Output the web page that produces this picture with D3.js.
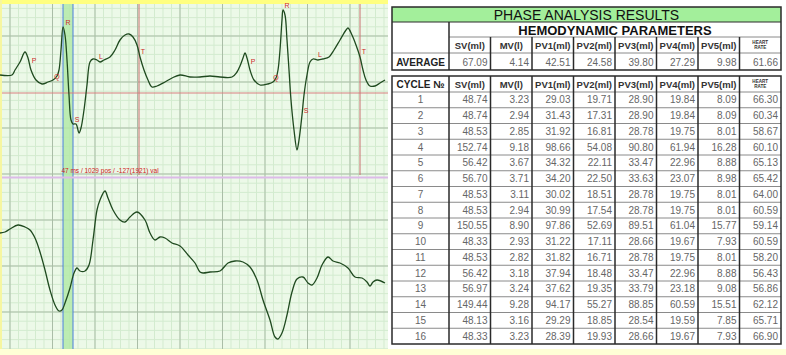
<!DOCTYPE html>
<html>
<head>
<meta charset="utf-8">
<script src="https://cdn.jsdelivr.net/npm/d3@7"></script>
<style>
  body { margin: 0; background: #fff; }
  svg { display: block; }
  text { font-family: Arial, "Liberation Sans", sans-serif; }
</style>
</head>
<body>
<div id="chart"></div>
<script>
// ECG traces: time in ms, amplitude in raw units
var topTrace = [
  [0,70],[48,70],[60,120],[80,200],[100,300],[112,240],[124,120],[144,20],[168,-20],[192,0],
  [212,20],[228,60],[236,120],[244,320],[252,550],[260,470],[268,220],[276,-130],[284,-380],[292,-420],
  [304,-420],[316,-510],[324,-460],[336,-280],[348,-30],[360,200],[372,230],[388,220],[400,200],[416,220],
  [440,250],[460,320],[480,420],[500,470],[516,480],[532,450],[548,370],[560,250],[576,120],[592,20],
  [608,-50],[628,-40],[660,0],[688,40],[720,70],[760,50],[800,50],[840,60],[880,50],[928,50],
  [948,100],[960,160],[972,240],[980,290],[988,240],[1000,120],[1016,20],[1040,-30],[1072,-20],[1092,0],
  [1104,40],[1112,120],[1120,320],[1128,620],[1132,720],[1140,670],[1148,420],[1156,120],[1164,-180],[1176,-480],
  [1188,-680],[1196,-580],[1208,-330],[1216,-130],[1228,70],[1240,200],[1252,230],[1272,220],[1292,230],[1316,250],
  [1336,320],[1360,420],[1384,520],[1392,540],[1408,470],[1424,370],[1440,250],[1452,120],[1464,20],[1480,-40],
  [1500,-40],[1520,-10],[1540,20]
]

var bottomTrace = [
  [0,360],[20,370],[40,400],[72,440],[100,420],[120,390],[140,310],[160,170],[180,-10],[200,-210],
  [220,-360],[236,-420],[248,-410],[260,-340],[280,-190],[296,-40],[308,10],[320,-20],[340,-20],[356,40],
  [372,290],[388,590],[400,690],[420,780],[432,710],[452,590],[480,490],[500,470],[520,520],[548,570],
  [580,490],[600,360],[620,290],[640,320],[660,310],[688,260],[720,230],[752,140],[780,60],[800,-30],
  [812,-40],[840,-30],[880,-20],[912,60],[940,80],[972,70],[1000,20],[1028,-110],[1052,-310],[1080,-510],
  [1100,-680],[1112,-700],[1128,-640],[1148,-460],[1168,-230],[1188,-100],[1212,-80],[1232,-140],[1248,-160],[1268,-90],
  [1288,40],[1312,120],[1332,80],[1360,60],[1392,10],[1420,-80],[1448,-90],[1468,-130],[1480,-170],[1492,-130],
  [1508,-110],[1540,-140]
]

var waveLabels = [
  {label:"P", t:136, v:210}, {label:"Q", t:228, v:50}, {label:"R", t:272, v:590},
  {label:"S", t:308, v:-380}, {label:"L", t:404, v:250}, {label:"T", t:572, v:300},
  {label:"P", t:1012, v:200}, {label:"Q", t:1104, v:40}, {label:"R", t:1148, v:760},
  {label:"S", t:1224, v:-290}, {label:"L", t:1280, v:270}, {label:"T", t:1456, v:300}
]

var cursorText = "47 ms / 1029 pos / -127(1921) val"

// table
var columns = ["SV(ml)","MV(l)","PV1(ml)","PV2(ml)","PV3(ml)","PV4(ml)","PV5(ml)","HEART RATE"]
var average = [67.09, 4.14, 42.51, 24.58, 39.80, 27.29, 9.98, 61.66]
var cycles = [1,2,3,4,5,6,7,8,9,10,11,12,13,14,15,16]
var sv  = [48.74,48.74,48.53,152.74,56.42,56.70,48.53,48.53,150.55,48.33,48.53,56.42,56.97,149.44,48.13,48.33]
var mv  = [3.23,2.94,2.85,9.18,3.67,3.71,3.11,2.94,8.90,2.93,2.82,3.18,3.24,9.28,3.16,3.23]
var pv1 = [29.03,31.43,31.92,98.66,34.32,34.20,30.02,30.99,97.86,31.22,31.82,37.94,37.62,94.17,29.29,28.39]
var pv2 = [19.71,17.31,16.81,54.08,22.11,22.50,18.51,17.54,52.69,17.11,16.71,18.48,19.35,55.27,18.85,19.93]
var pv3 = [28.90,28.90,28.78,90.80,33.47,33.63,28.78,28.78,89.51,28.66,28.78,33.47,33.79,88.85,28.54,28.66]
var pv4 = [19.84,19.84,19.75,61.94,22.96,23.07,19.75,19.75,61.04,19.67,19.75,22.96,23.18,60.59,19.59,19.67]
var pv5 = [8.09,8.09,8.01,16.28,8.88,8.98,8.01,8.01,15.77,7.93,8.01,8.88,9.08,15.51,7.85,7.93]
var heartRate = [66.30,60.34,58.67,60.10,65.13,65.42,64.00,60.59,59.14,60.59,58.20,56.43,56.86,62.12,65.71,66.90]

var W = 786, H = 355
var svg = d3.select("#chart").append("svg").attr("width", W).attr("height", H)

// ---------- ECG panel ----------
var panelW = 388
var xScale = d3.scaleLinear().domain([0, 1540]).range([0, 385])
var yTop = d3.scaleLinear().domain([820, -950]).range([0, 177])
var yBot = d3.scaleLinear().domain([920, -810]).range([177, 350])

svg.append("rect").attr("x", 0).attr("y", 0).attr("width", panelW).attr("height", H).attr("fill", "#ecf9e8")

var grid = svg.append("g")
// minor grid
for (var gx = 10 - 8.5 * 2; gx < panelW; gx += 8.5) {
  grid.append("line").attr("x1", gx).attr("x2", gx).attr("y1", 0).attr("y2", H)
    .attr("stroke", "#d3ebcf").attr("stroke-width", 1)
}
for (var gy = 82 - 9.2 * 10; gy < H; gy += 9.2) {
  grid.append("line").attr("x1", 0).attr("x2", panelW).attr("y1", gy).attr("y2", gy)
    .attr("stroke", "#d3ebcf").attr("stroke-width", 1)
}
// major grid
for (var mx = 10; mx < panelW; mx += 42.5) {
  grid.append("line").attr("x1", mx).attr("x2", mx).attr("y1", 0).attr("y2", H)
    .attr("stroke", "#aabda7").attr("stroke-width", 1)
}
for (var my = 82 - 46 * 2; my < H; my += 46) {
  grid.append("line").attr("x1", 0).attr("x2", panelW).attr("y1", my).attr("y2", my)
    .attr("stroke", "#aabda7").attr("stroke-width", 1)
}

// cursor band between blue lines
svg.append("rect")
  .attr("x", xScale(252)).attr("y", 0)
  .attr("width", xScale(292) - xScale(252)).attr("height", H)
  .attr("fill", "#b4eaa8").attr("opacity", 0.85)
;[252, 292].forEach(function(t) {
  svg.append("line").attr("x1", xScale(t)).attr("x2", xScale(t)).attr("y1", 0).attr("y2", H)
    .attr("stroke", "#4a7fdc").attr("stroke-width", 1)
})

// red reference lines
svg.append("line").attr("x1", 0).attr("x2", panelW).attr("y1", yTop(-110)).attr("y2", yTop(-110))
  .attr("stroke", "#d88080").attr("stroke-width", 1)
;[556, 1440].forEach(function(t) {
  svg.append("line").attr("x1", xScale(t)).attr("x2", xScale(t)).attr("y1", 4).attr("y2", 175)
    .attr("stroke", "#c87070").attr("stroke-width", 1)
})

// separator
svg.append("line").attr("x1", 0).attr("x2", panelW).attr("y1", 177.5).attr("y2", 177.5)
  .attr("stroke", "#dcbbe8").attr("stroke-width", 2)

// yellow strips
svg.append("rect").attr("x", 0).attr("y", 0).attr("width", panelW).attr("height", 4).attr("fill", "#ffff80")
svg.append("rect").attr("x", 0).attr("y", 0).attr("width", 2).attr("height", H).attr("fill", "#f6f6a0")
svg.append("rect").attr("x", 0).attr("y", 349).attr("width", W).attr("height", 6).attr("fill", "#ffffd6")

var lineTop = d3.line().x(function(d){ return xScale(d[0]) }).y(function(d){ return yTop(d[1]) })
  .curve(d3.curveCatmullRom.alpha(0.5))
var lineBot = d3.line().x(function(d){ return xScale(d[0]) }).y(function(d){ return yBot(d[1]) })
  .curve(d3.curveCatmullRom.alpha(0.5))

svg.append("path").datum(topTrace).attr("d", lineTop)
  .attr("fill", "none").attr("stroke", "#1f4a1f").attr("stroke-width", 1.3)
svg.append("path").datum(bottomTrace).attr("d", lineBot)
  .attr("fill", "none").attr("stroke", "#1f4a1f").attr("stroke-width", 1.3)

svg.selectAll(".wlab").data(waveLabels).enter().append("text")
  .attr("class", "wlab")
  .attr("x", function(d){ return xScale(d.t) })
  .attr("y", function(d){ return yTop(d.v) })
  .attr("text-anchor", "middle").attr("dominant-baseline", "middle")
  .attr("font-size", "7px").attr("fill", "#cc2a2a")
  .text(function(d){ return d.label })

svg.append("text").attr("x", 110).attr("y", 173).attr("text-anchor", "middle")
  .attr("font-size", "6.5px").attr("fill", "#d02020").text(cursorText)

// ---------- Table ----------
var tx0 = 392, tx1 = 449, tx2 = 781
var colScale = d3.scaleBand().domain(columns).range([tx1, tx2])
var rowScale = d3.scaleBand().domain(cycles).range([92, 344])
var cycleData = cycles.map(function(c, i) {
  return [sv[i], mv[i], pv1[i], pv2[i], pv3[i], pv4[i], pv5[i], heartRate[i]]
})

var tbl = svg.append("g")
var hLine = "#8a8a8a", vLine = "#2a2a2a"

// block 1
tbl.append("rect").attr("x", tx0).attr("y", 7).attr("width", tx2 - tx0).attr("height", 15).attr("fill", "#a3ef9b")
tbl.append("text").attr("x", (tx0 + tx2) / 2).attr("y", 19.5).attr("text-anchor", "middle")
  .attr("font-size", "14px").attr("fill", "#111").text("PHASE ANALYSIS RESULTS")
tbl.append("text").attr("x", (tx1 + tx2) / 2).attr("y", 34.5).attr("text-anchor", "middle")
  .attr("font-size", "13px").attr("font-weight", "bold").attr("fill", "#111").text("HEMODYNAMIC PARAMETERS")

function headerCells(y0, y1) {
  columns.forEach(function(c) {
    var cx = colScale(c) + colScale.bandwidth() / 2
    if (c === "HEART RATE") {
      tbl.append("text").attr("x", cx).attr("y", y0 + 6.5).attr("text-anchor", "middle")
        .attr("font-size", "4.6px").attr("font-weight", "bold").attr("fill", "#333").text("HEART")
      tbl.append("text").attr("x", cx).attr("y", y0 + 12).attr("text-anchor", "middle")
        .attr("font-size", "4.6px").attr("font-weight", "bold").attr("fill", "#333").text("RATE")
    } else {
      tbl.append("text").attr("x", cx).attr("y", (y0 + y1) / 2 + 3.5).attr("text-anchor", "middle")
        .attr("font-size", "9.5px").attr("font-weight", "bold").attr("fill", "#333").text(c)
    }
  })
}
headerCells(37, 53)

tbl.append("text").attr("x", (tx0 + tx1) / 2).attr("y", 65.5).attr("text-anchor", "middle")
  .attr("font-size", "10px").attr("font-weight", "bold").attr("fill", "#222").text("AVERAGE")
tbl.selectAll(".avg").data(average).enter().append("text").attr("class", "avg")
  .attr("x", function(d, i){ return colScale(columns[i]) + colScale.bandwidth() - 3 })
  .attr("y", 65.5).attr("text-anchor", "end").attr("font-size", "10px").attr("fill", "#666")
  .text(function(d){ return d.toFixed(2) })

// block1 lines
;[22, 37, 53].forEach(function(y) {
  tbl.append("line").attr("x1", y === 37 ? tx1 : tx0).attr("x2", tx2)
    .attr("y1", y).attr("y2", y).attr("stroke", y === 22 ? vLine : hLine).attr("stroke-width", 1)
})
tbl.append("line").attr("x1", tx1).attr("x2", tx1).attr("y1", 22).attr("y2", 70).attr("stroke", vLine).attr("stroke-width", 1.5)
columns.slice(1).forEach(function(c) {
  tbl.append("line").attr("x1", colScale(c)).attr("x2", colScale(c)).attr("y1", 37).attr("y2", 70)
    .attr("stroke", vLine).attr("stroke-width", 1.5)
})
tbl.append("rect").attr("x", tx0).attr("y", 7).attr("width", tx2 - tx0).attr("height", 63)
  .attr("fill", "none").attr("stroke", vLine).attr("stroke-width", 1.5)

// block 2
tbl.append("text").attr("x", (tx0 + tx1) / 2).attr("y", 87.5).attr("text-anchor", "middle")
  .attr("font-size", "10px").attr("font-weight", "bold").attr("fill", "#222").text("CYCLE №")
headerCells(76, 92)

var rows = tbl.selectAll(".row").data(cycleData).enter().append("g").attr("class", "row")
  .attr("transform", function(d, i){ return "translate(0," + rowScale(cycles[i]) + ")" })
rows.append("line").attr("x1", tx0).attr("x2", tx2).attr("y1", 0).attr("y2", 0)
  .attr("stroke", hLine).attr("stroke-width", 1)
rows.append("text").attr("x", (tx0 + tx1) / 2).attr("y", rowScale.bandwidth() / 2 + 3.5)
  .attr("text-anchor", "middle").attr("font-size", "10px").attr("fill", "#666")
  .text(function(d, i){ return cycles[i] })
rows.selectAll(".val").data(function(d){ return d }).enter().append("text").attr("class", "val")
  .attr("x", function(d, j){ return colScale(columns[j]) + colScale.bandwidth() - 3 })
  .attr("y", rowScale.bandwidth() / 2 + 3.5)
  .attr("text-anchor", "end").attr("font-size", "10px").attr("fill", "#666")
  .text(function(d){ return d.toFixed(2) })

;[tx1].concat(columns.slice(1).map(function(c){ return colScale(c) })).forEach(function(x) {
  tbl.append("line").attr("x1", x).attr("x2", x).attr("y1", 76).attr("y2", 344)
    .attr("stroke", vLine).attr("stroke-width", 1.5)
})
tbl.append("rect").attr("x", tx0).attr("y", 76).attr("width", tx2 - tx0).attr("height", 268)
  .attr("fill", "none").attr("stroke", vLine).attr("stroke-width", 1.5)
</script>
</body>
</html>
